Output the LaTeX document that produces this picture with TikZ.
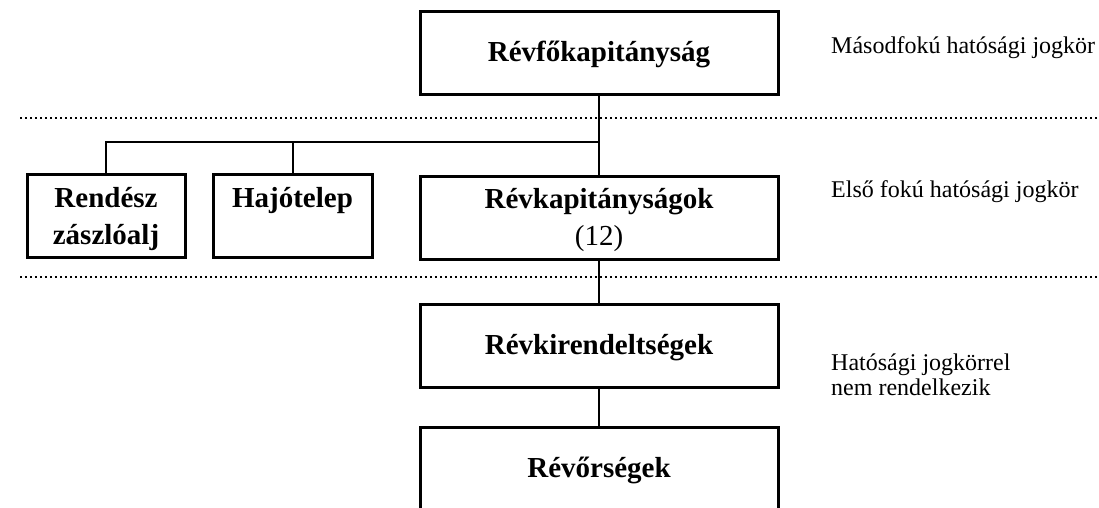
\documentclass[tikz,border=0pt]{standalone}
\usepackage{fontspec}
\setmainfont{Liberation Serif}
\begin{document}
\begin{tikzpicture}[x=1pt,y=-1pt,
    doboz/.style={draw, line width=3pt, inner sep=0pt, align=center,
      minimum width=358pt, minimum height=83pt,
      text height=25pt, text depth=7pt,
      font=\fontsize{29}{37}\selectfont\bfseries},
    ketsoros/.style={text height=63pt, text depth=7pt},
    vonal/.style={line width=2pt},
    szint/.style={line width=1.6pt, dash pattern=on 1.6pt off 3.4pt},
    felirat/.style={anchor=west, inner sep=0pt, align=left,
      font=\fontsize{24}{25}\selectfont}]
    \useasboundingbox (0,0) rectangle (1099,507);

    % Drawing level separators
    \draw [szint] (20,118) -- (1099,118);%
    \draw [szint] (20,277) -- (1099,277);%

    % Drawing boxes
    \node [doboz] (fokap) at (599,52.5) {Révfőkapitányság};%
    \node [doboz, ketsoros, minimum width=158pt] (rendesz) at (106,216) {Rendész\\zászlóalj};%
    \node [doboz, ketsoros, minimum width=159pt] (hajo) at (292.5,216) {Hajótelep\\\strut};%
    \node [doboz, ketsoros] (revkap) at (599,217.5) {Révkapitányságok\\{\mdseries (12)}};%
    \node [doboz] (kirend) at (599,345.5) {Révkirendeltségek};%
    \node [doboz] (orseg) at (599,468.5) {Révőrségek};%

    % Drawing connectors
    \coordinate (elag) at (599,142);
    \draw [vonal] (fokap) -- (revkap);%
    \draw [vonal] (revkap) -- (kirend);%
    \draw [vonal] (kirend) -- (orseg);%
    \draw [vonal] (rendesz.north) |- (elag);%
    \draw [vonal] (hajo.north) -- (hajo.north |- elag);%

    % Marking levels
    \node [felirat] (masod) at (831,48) {Másodfokú hatósági jogkör};%
    \node [felirat] (elso) at (831,192) {Első fokú hatósági jogkör};%
    \node [felirat] (nincs) at (831,374.5) {Hatósági jogkörrel\\nem rendelkezik};%
\end{tikzpicture}
\end{document}
